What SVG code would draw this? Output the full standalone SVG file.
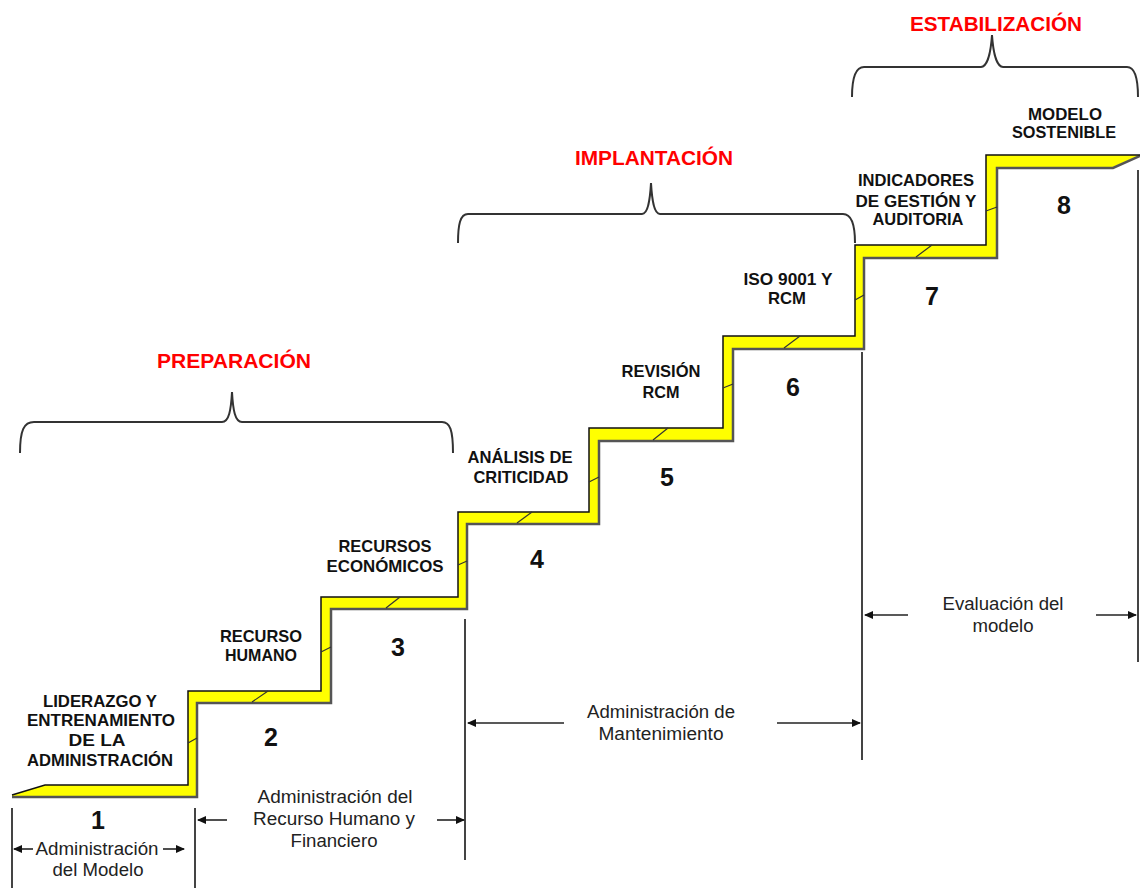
<svg xmlns="http://www.w3.org/2000/svg" width="1140" height="888" viewBox="0 0 1140 888">
<style>
.lbl{font-family:"Liberation Sans",Arial,sans-serif;font-weight:bold;font-size:16.5px;fill:#111;text-anchor:middle}
.num{font-family:"Liberation Sans",Arial,sans-serif;font-weight:bold;font-size:25px;fill:#111;text-anchor:middle}
.phase{font-family:"Liberation Sans",Arial,sans-serif;font-weight:bold;font-size:20px;fill:#ff0000;text-anchor:middle}
.reg{font-family:"Liberation Sans",Arial,sans-serif;font-size:17.5px;fill:#222;text-anchor:middle}
.brace{fill:none;stroke:#333;stroke-width:2}
.div{stroke:#444;stroke-width:2}
.arr{stroke:#222;stroke-width:1.6;marker-end:url(#ah)}
.slash{stroke:#333;stroke-width:1.2}
</style>
<defs>
<marker id="ah" markerUnits="userSpaceOnUse" markerWidth="9" markerHeight="8" refX="8" refY="4" orient="auto">
<path d="M0,0 L9,4 L0,8 Z" fill="#111"/>
</marker>
</defs>
<rect width="1140" height="888" fill="#fff"/>

<g id="staircase">
<polygon points="12,795 45,785 188,785 188,691 321,691 321,597 458,597 458,512 589,512 589,428 723,428 723,336 855,336 855,245 986,245 986,155 1140,155 1113,167 997,167 997,257 864,257 864,348 733,348 733,440 599,440 599,523 467,523 467,608 331,608 331,702 197,702 197,796 12,796" fill="#ffff00" stroke="none"/>
<polyline points="1140,156 1113,168 997,168 997,258 864,258 864,349 733,349 733,441 599,441 599,524 467,524 467,609 331,609 331,703 197,703 197,797 12,797" fill="none" stroke="#555" stroke-width="2.5"/>
<polyline points="12,795 45,785 188,785 188,691 321,691 321,597 458,597 458,512 589,512 589,428 723,428 723,336 855,336 855,245 986,245 986,155 1140,155" fill="none" stroke="#111" stroke-width="1.5"/>
<line class="slash" x1="188" y1="743" x2="197" y2="738"/>
<line class="slash" x1="252" y1="702" x2="268" y2="691"/>
<line class="slash" x1="321" y1="652" x2="331" y2="647"/>
<line class="slash" x1="386" y1="608" x2="400" y2="597"/>
<line class="slash" x1="458" y1="565" x2="467" y2="561"/>
<line class="slash" x1="517" y1="523" x2="532" y2="512"/>
<line class="slash" x1="589" y1="482" x2="599" y2="477"/>
<line class="slash" x1="653" y1="440" x2="668" y2="428"/>
<line class="slash" x1="723" y1="388" x2="733" y2="384"/>
<line class="slash" x1="784" y1="348" x2="800" y2="336"/>
<line class="slash" x1="855" y1="300" x2="864" y2="295"/>
<line class="slash" x1="916" y1="257" x2="932" y2="245"/>
<line class="slash" x1="986" y1="211" x2="997" y2="207"/>
</g>

<g id="step1">
<text class="lbl" x="100" y="707" textLength="114" lengthAdjust="spacingAndGlyphs">LIDERAZGO Y</text>
<text class="lbl" x="101" y="726" textLength="148" lengthAdjust="spacingAndGlyphs">ENTRENAMIENTO</text>
<text class="lbl" x="97" y="746" textLength="57" lengthAdjust="spacingAndGlyphs">DE LA</text>
<text class="lbl" x="100" y="766" textLength="146" lengthAdjust="spacingAndGlyphs">ADMINISTRACIÓN</text>
<text class="num" x="98" y="829">1</text>
</g>
<g id="step2">
<text class="lbl" x="261" y="642" textLength="82" lengthAdjust="spacingAndGlyphs">RECURSO</text>
<text class="lbl" x="261" y="661" textLength="72" lengthAdjust="spacingAndGlyphs">HUMANO</text>
<text class="num" x="271" y="746">2</text>
</g>
<g id="step3">
<text class="lbl" x="385" y="552" textLength="93" lengthAdjust="spacingAndGlyphs">RECURSOS</text>
<text class="lbl" x="385" y="572" textLength="117" lengthAdjust="spacingAndGlyphs">ECONÓMICOS</text>
<text class="num" x="398" y="656">3</text>
</g>
<g id="step4">
<text class="lbl" x="520" y="463" textLength="105" lengthAdjust="spacingAndGlyphs">ANÁLISIS DE</text>
<text class="lbl" x="521" y="483" textLength="95" lengthAdjust="spacingAndGlyphs">CRITICIDAD</text>
<text class="num" x="537" y="568">4</text>
</g>
<g id="step5">
<text class="lbl" x="661" y="377" textLength="79" lengthAdjust="spacingAndGlyphs">REVISIÓN</text>
<text class="lbl" x="661" y="398" textLength="37" lengthAdjust="spacingAndGlyphs">RCM</text>
<text class="num" x="667" y="486">5</text>
</g>
<g id="step6">
<text class="lbl" x="788" y="285" textLength="89" lengthAdjust="spacingAndGlyphs">ISO 9001 Y</text>
<text class="lbl" x="787" y="304" textLength="38" lengthAdjust="spacingAndGlyphs">RCM</text>
<text class="num" x="793" y="396">6</text>
</g>
<g id="step7">
<text class="lbl" x="916" y="186" textLength="116" lengthAdjust="spacingAndGlyphs">INDICADORES</text>
<text class="lbl" x="916" y="207" textLength="121" lengthAdjust="spacingAndGlyphs">DE GESTIÓN Y</text>
<text class="lbl" x="918" y="225" textLength="91" lengthAdjust="spacingAndGlyphs">AUDITORIA</text>
<text class="num" x="932" y="305">7</text>
</g>
<g id="step8">
<text class="lbl" x="1065" y="120" textLength="74" lengthAdjust="spacingAndGlyphs">MODELO</text>
<text class="lbl" x="1064" y="138" textLength="104" lengthAdjust="spacingAndGlyphs">SOSTENIBLE</text>
<text class="num" x="1064" y="214">8</text>
</g>

<g id="phase-preparacion">
<text class="phase" x="234" y="368" textLength="154" lengthAdjust="spacingAndGlyphs">PREPARACIÓN</text>
<path class="brace" d="M20,453 C20,430 24,422 34,422 L222,422 C229,422 231,410 232,392 C233,410 235,422 242,422 L442,422 C450,422 453,430 453,453"/>
</g>
<g id="phase-implantacion">
<text class="phase" x="654" y="165" textLength="158" lengthAdjust="spacingAndGlyphs">IMPLANTACIÓN</text>
<path class="brace" d="M458,243 C458,225 460,214 468,214 L642,214 C648,214 650,200 651,183 C652,200 654,214 660,214 L843,214 C851,214 855,225 855,243" stroke-width="2.4"/>
</g>
<g id="phase-estabilizacion">
<text class="phase" x="996" y="31" textLength="172" lengthAdjust="spacingAndGlyphs">ESTABILIZACIÓN</text>
<path class="brace" d="M852,97 C852,78 855,67 864,67 L981,67 C988,67 991,50 992,35 C993,50 996,67 1003,67 L1127,67 C1135,67 1138,78 1138,97"/>
</g>

<g id="dividers">
<line class="div" x1="12" y1="808" x2="12" y2="888"/>
<line class="div" x1="195" y1="808" x2="195" y2="888"/>
<line class="div" x1="465" y1="619" x2="465" y2="860"/>
<line class="div" x1="862" y1="352" x2="862" y2="760"/>
<line class="div" x1="1138" y1="170" x2="1138" y2="662"/>
</g>

<g id="connectors">
<line class="arr" x1="33" y1="849" x2="14" y2="849"/>
<line class="arr" x1="163" y1="849" x2="184" y2="849"/>
<line class="arr" x1="227" y1="820" x2="198" y2="820"/>
<line class="arr" x1="437" y1="820" x2="464" y2="820"/>
<line class="arr" x1="564" y1="723" x2="468" y2="723"/>
<line class="arr" x1="777" y1="723" x2="860" y2="723"/>
<line class="arr" x1="908" y1="615" x2="865" y2="615"/>
<line class="arr" x1="1096" y1="615" x2="1136" y2="615"/>
</g>

<g id="range1">
<text class="reg" x="97" y="855" textLength="123" lengthAdjust="spacingAndGlyphs">Administración</text>
<text class="reg" x="98" y="876" textLength="91" lengthAdjust="spacingAndGlyphs">del Modelo</text>
</g>
<g id="range2">
<text class="reg" x="335" y="803" textLength="155" lengthAdjust="spacingAndGlyphs">Administración del</text>
<text class="reg" x="334" y="825" textLength="162" lengthAdjust="spacingAndGlyphs">Recurso Humano y</text>
<text class="reg" x="334" y="847" textLength="87" lengthAdjust="spacingAndGlyphs">Financiero</text>
</g>
<g id="range3">
<text class="reg" x="661" y="718" textLength="148" lengthAdjust="spacingAndGlyphs">Administración de</text>
<text class="reg" x="661" y="740" textLength="125" lengthAdjust="spacingAndGlyphs">Mantenimiento</text>
</g>
<g id="range4">
<text class="reg" x="1003" y="610" textLength="121" lengthAdjust="spacingAndGlyphs">Evaluación del</text>
<text class="reg" x="1003" y="632" textLength="61" lengthAdjust="spacingAndGlyphs">modelo</text>
</g>
</svg>
